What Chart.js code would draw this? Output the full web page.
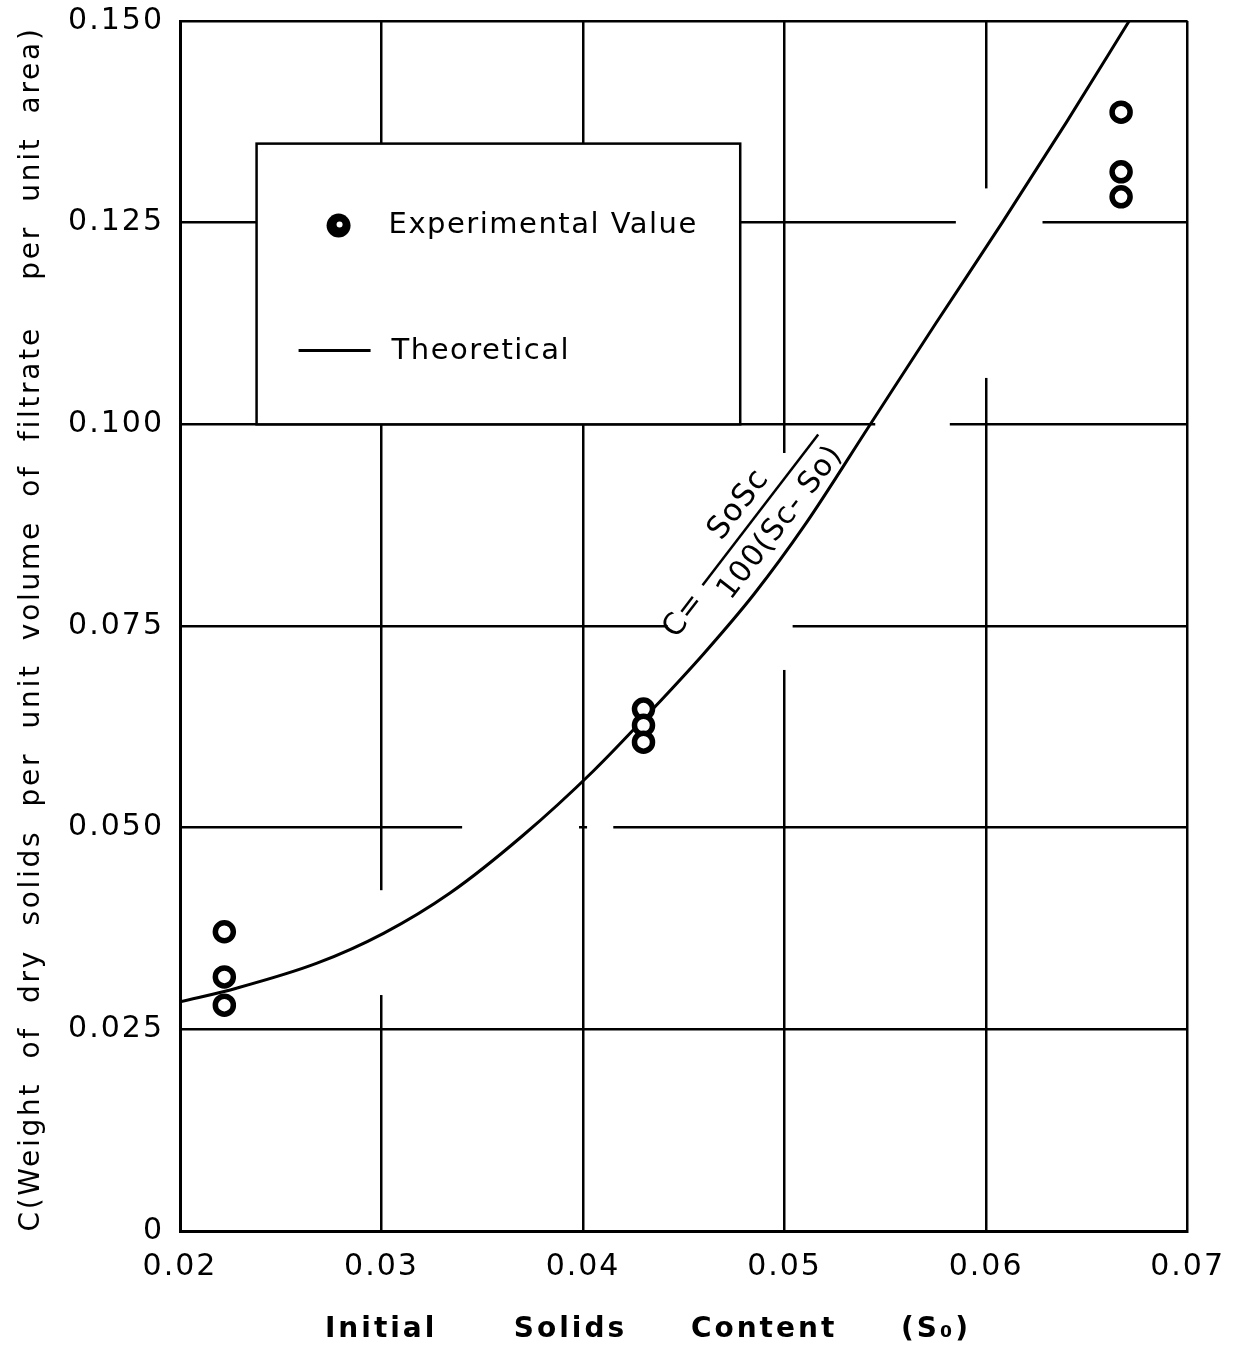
<!DOCTYPE html>
<html>
<head>
<meta charset="utf-8">
<title>Initial Solids Content vs C</title>
<script src="https://cdn.jsdelivr.net/npm/chart.js@4.4.1/dist/chart.umd.min.js"></script>
<style>
	body { margin: 0; background: #fff; }
	canvas { display: block; }
</style>
</head>
<body>
<canvas id="plot" width="1239" height="1353"></canvas>
<script>
// values
var xTickLabels = ['0.02', '0.03', '0.04', '0.05', '0.06', '0.07'];
var yTickLabels = ['0', '0.025', '0.050', '0.075', '0.100', '0.125', '0.150'];

var expX = [0.0222, 0.0222, 0.0222, 0.0430, 0.0430, 0.0430, 0.0667, 0.0667, 0.0667];
var expY = [0.0371, 0.0315, 0.0280, 0.0647, 0.0627, 0.0606, 0.1387, 0.1313, 0.1282];

var theoX = [0.0200, 0.0228, 0.0268, 0.0301, 0.0334, 0.0370, 0.0405, 0.0435, 0.0460, 0.0485, 0.0510, 0.0542, 0.0575, 0.0608, 0.0640, 0.0671];
var theoY = [0.0284, 0.0301, 0.0332, 0.0369, 0.0419, 0.0490, 0.0570, 0.0648, 0.0716, 0.0790, 0.0875, 0.0998, 0.1125, 0.1250, 0.1375, 0.1500];

var FONT = '"DejaVu Sans", "Liberation Sans", sans-serif';

function pts(xs, ys) {
	return xs.map(function(x, i) { return {x: x, y: ys[i]}; });
}

// breaks in the hand-drawn grid (data units)
var gridGaps = [
	{x0: 0.0545, x1: 0.0582, y0: 0.1003, y1: 0.0997},
	{x0: 0.0585, x1: 0.0628, y0: 0.1253, y1: 0.1247},
	{x0: 0.0596, x1: 0.0604, y0: 0.1290, y1: 0.1060},
	{x0: 0.0442, x1: 0.0503, y0: 0.0753, y1: 0.0747},
	{x0: 0.0496, x1: 0.0504, y0: 0.0962, y1: 0.0698},
	{x0: 0.0340, x1: 0.0398, y0: 0.0503, y1: 0.0497},
	{x0: 0.0402, x1: 0.0415, y0: 0.0503, y1: 0.0497},
	{x0: 0.0296, x1: 0.0304, y0: 0.0420, y1: 0.0295}
];

var decor = {
	id: 'decor',
	beforeDraw: function(chart) {
		chart.ctx.letterSpacing = '2px';
	},
	beforeDatasetsDraw: function(chart) {
		var ctx = chart.ctx, xs = chart.scales.x, ys = chart.scales.y;
		ctx.save();
		ctx.fillStyle = '#fff';
		gridGaps.forEach(function(g) {
			var a = xs.getPixelForValue(g.x0), b = xs.getPixelForValue(g.x1);
			var c = ys.getPixelForValue(g.y0), d = ys.getPixelForValue(g.y1);
			ctx.fillRect(a, c - 2, b - a, d - c + 4);
		});

		// legend box inside the plot
		var l = xs.getPixelForValue(0.0238), r = xs.getPixelForValue(0.0478);
		var t = ys.getPixelForValue(0.1348), bt = ys.getPixelForValue(0.100);
		ctx.fillRect(l, t, r - l, bt - t);
		ctx.strokeStyle = '#000';
		ctx.lineWidth = 2.5;
		ctx.strokeRect(l, t, r - l, bt - t);

		ctx.fillStyle = '#000';
		ctx.beginPath();
		ctx.arc(l + 82, t + 82, 12, 0, Math.PI * 2);
		ctx.fill();
		ctx.fillStyle = '#fff';
		ctx.beginPath();
		ctx.arc(l + 83, t + 81, 3, 0, Math.PI * 2);
		ctx.fill();

		ctx.strokeStyle = '#000';
		ctx.lineWidth = 3;
		ctx.beginPath();
		ctx.moveTo(l + 42, t + 207);
		ctx.lineTo(l + 114, t + 207);
		ctx.stroke();

		ctx.fillStyle = '#000';
		ctx.font = '29px ' + FONT;
		ctx.letterSpacing = '1.5px';
		ctx.textAlign = 'left';
		ctx.textBaseline = 'middle';
		ctx.fillText('Experimental Value', l + 132, t + 82);
		ctx.fillText('Theoretical', l + 135, t + 208);
		ctx.restore();
	},
	afterDatasetsDraw: function(chart) {
		var ctx = chart.ctx, xs = chart.scales.x, ys = chart.scales.y;
		ctx.save();
		ctx.letterSpacing = '1px';
		ctx.fillStyle = '#000';
		ctx.strokeStyle = '#000';

		// equation written along the curve
		var cx = xs.getPixelForValue(0.0488), cy = ys.getPixelForValue(0.0894);
		ctx.translate(cx, cy);
		ctx.rotate(-52.5 * Math.PI / 180);
		ctx.lineWidth = 2.5;
		ctx.beginPath();
		ctx.moveTo(-95, 0);
		ctx.lineTo(95, 0);
		ctx.stroke();
		ctx.textAlign = 'center';
		ctx.textBaseline = 'middle';
		ctx.font = '31px ' + FONT;
		ctx.fillText('SoSc', -9, -20);
		ctx.font = '30px ' + FONT;
		ctx.fillText('100(Sc- So)', 2, 24);
		ctx.fillText('C=', -130, 4);
		ctx.restore();

		// axis titles
		ctx.save();
		ctx.fillStyle = '#000';
		ctx.textAlign = 'center';
		ctx.textBaseline = 'middle';
		ctx.font = '28px ' + FONT;
		var yt = 'C(Weight  of  dry  solids  per  unit  volume  of  filtrate    per  unit  area)';
		ctx.letterSpacing = '0px';
		var w0 = ctx.measureText(yt).width;
		ctx.letterSpacing = ((1205 - w0) / yt.length).toFixed(2) + 'px';
		ctx.translate(32, 629);
		ctx.rotate(-Math.PI / 2);
		ctx.fillText(yt, 0, 0);
		ctx.restore();

		ctx.save();
		ctx.fillStyle = '#000';
		ctx.textAlign = 'center';
		ctx.textBaseline = 'middle';
		ctx.font = 'bold 28px ' + FONT;
		ctx.letterSpacing = '3px';
		ctx.fillText('Initial      Solids     Content     (S\u2080)', 648, 1330);
		ctx.restore();
	}
};

new Chart(document.getElementById('plot').getContext('2d'), {
	type: 'scatter',
	data: {
		datasets: [{
			label: 'Experimental Value',
			data: pts(expX, expY),
			showLine: false,
			pointStyle: 'circle',
			pointRadius: 9,
			pointBorderWidth: 5.5,
			pointBorderColor: '#000',
			pointBackgroundColor: '#fff'
		}, {
			label: 'Theoretical',
			data: pts(theoX, theoY),
			showLine: true,
			pointRadius: 0,
			borderColor: '#000',
			borderWidth: 3,
			cubicInterpolationMode: 'monotone'
		}]
	},
	options: {
		responsive: false,
		animation: false,
		layout: {padding: {top: 21, right: 51, left: 0, bottom: 0}},
		plugins: {legend: {display: false}, tooltip: {enabled: false}},
		scales: {
			x: {
				type: 'linear',
				min: 0.02,
				max: 0.07,
				afterFit: function(s) { s.height = 122; },
				grid: {color: '#000', lineWidth: 2.5, drawTicks: false},
				border: {color: '#000', width: 3},
				ticks: {
					stepSize: 0.01,
					padding: 18,
					color: '#000',
					font: {family: FONT, size: 30},
					callback: function(v, i) { return xTickLabels[i]; }
				}
			},
			y: {
				min: 0,
				max: 0.15,
				afterFit: function(s) { s.width = 180; s.paddingTop = 0; s.paddingBottom = 0; },
				grid: {color: '#000', lineWidth: 2.5, drawTicks: false},
				border: {color: '#000', width: 3},
				ticks: {
					stepSize: 0.025,
					padding: 16,
					color: '#000',
					font: {family: FONT, size: 30},
					callback: function(v, i) { return yTickLabels[i]; }
				}
			}
		}
	},
	plugins: [decor]
});
</script>
</body>
</html>
